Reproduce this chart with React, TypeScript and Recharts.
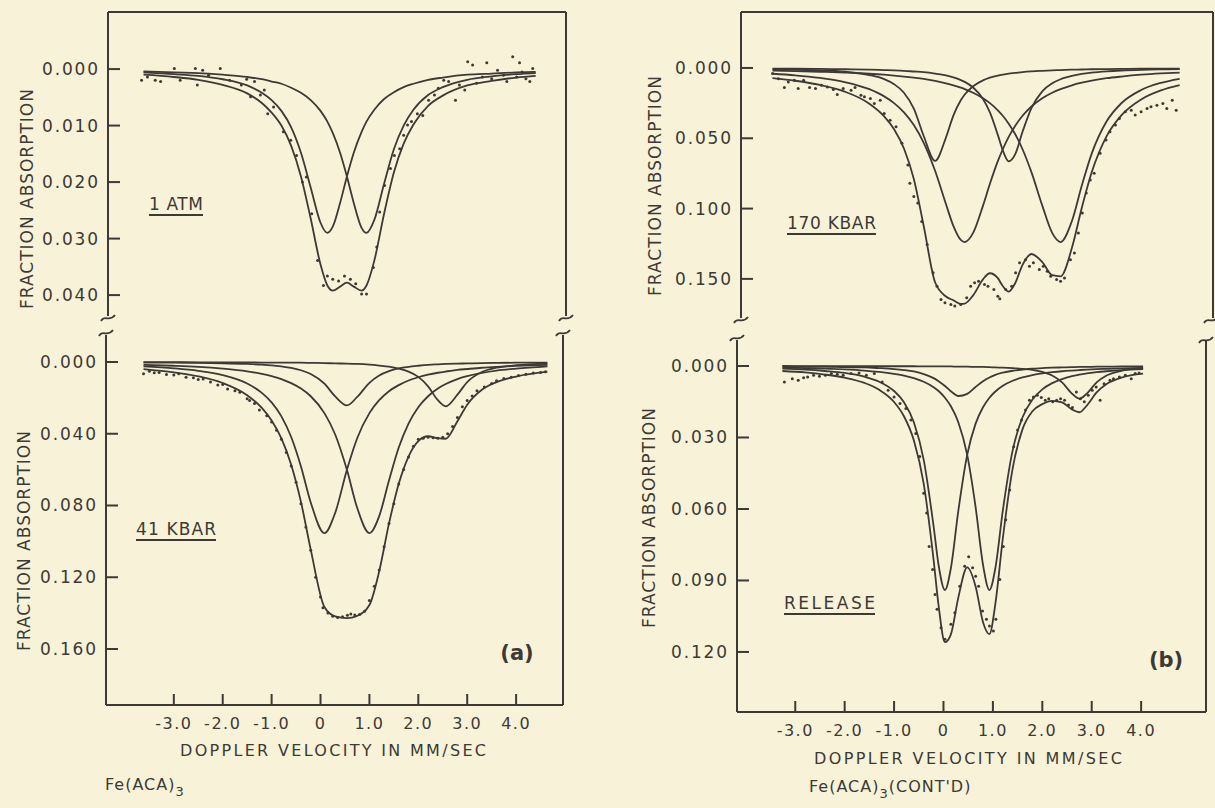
import React from 'react';
import { ComposedChart, Line, Scatter, XAxis, YAxis, ReferenceLine } from 'recharts';

const INK = '#3d3934';
const PAPER = '#f8f3d8';
const FONT = '"DejaVu Sans", "Noto Sans", sans-serif';

// ---------- shared x ticks ----------
const X_TICKS = [-3, -2, -1, 0, 1, 2, 3, 4];
const X_TICK_LABELS = ['-3.0', '-2.0', '-1.0', '0', '1.0', '2.0', '3.0', '4.0'];

// ---------- 1 ATM ----------
const ATM_Y_TICKS = [0, 0.01, 0.02, 0.03, 0.04];
const ATM_Y_LABELS = ['0.000', '0.010', '0.020', '0.030', '0.040'];
const ATM_V = [-3.62, -3, -2.5, -2, -1.5, -1.2, -1, -0.8, -0.6, -0.4, -0.2, 0, 0.14, 0.25, 0.4, 0.54, 0.68, 0.84, 0.94, 1.1, 1.3, 1.5, 1.7, 1.9, 2.2, 2.5, 3, 3.5, 4, 4.4];
const ATM_A = [0.0006, 0.0009, 0.0012, 0.0018, 0.0029, 0.0042, 0.0055, 0.0074, 0.0103, 0.0148, 0.0210, 0.0272, 0.0290, 0.0279, 0.0237, 0.0190, 0.0148, 0.0111, 0.0093, 0.0072, 0.0053, 0.0041, 0.0032, 0.0026, 0.0019, 0.0015, 0.0010, 0.0008, 0.0006, 0.0005];
const ATM_B = [0.0004, 0.0006, 0.0007, 0.0010, 0.0014, 0.0018, 0.0022, 0.0026, 0.0033, 0.0042, 0.0055, 0.0074, 0.0093, 0.0113, 0.0148, 0.0190, 0.0237, 0.0281, 0.0290, 0.0267, 0.0203, 0.0142, 0.0100, 0.0072, 0.0046, 0.0032, 0.0019, 0.0013, 0.0009, 0.0007];
const ATM_T = [0.0010, 0.0014, 0.0019, 0.0028, 0.0043, 0.0060, 0.0077, 0.0100, 0.0136, 0.0190, 0.0265, 0.0346, 0.0383, 0.0392, 0.0385, 0.0378, 0.0385, 0.0392, 0.0383, 0.0339, 0.0256, 0.0183, 0.0132, 0.0098, 0.0065, 0.0047, 0.0029, 0.0021, 0.0015, 0.0012];
const ATM_DOT_V = [-3.66, -3.54, -3.38, -3.27, -2.99, -2.87, -2.56, -2.52, -2.41, -2.29, -2.05, -1.86, -1.62, -1.51, -1.43, -1.35, -1.23, -1.15, -1.08, -0.96, -0.76, -0.61, -0.49, -0.37, -0.29, -0.18, -0.06, 0.06, 0.14, 0.25, 0.37, 0.49, 0.61, 0.72, 0.84, 0.94, 1.08, 1.15, 1.21, 1.31, 1.43, 1.51, 1.62, 1.70, 1.78, 1.86, 1.98, 2.09, 2.21, 2.33, 2.41, 2.52, 2.62, 2.76, 2.84, 2.95, 3.01, 3.11, 3.19, 3.31, 3.40, 3.50, 3.62, 3.74, 3.81, 3.93, 4.01, 4.07, 4.12, 4.20, 4.28, 4.34];
const ATM_DOT_A = [0.0020, 0.0014, 0.0020, 0.0022, -0.0001, 0.0020, -0.0001, 0.0028, 0.0002, 0.0011, -0.0001, 0.0020, 0.0028, 0.0018, 0.0049, 0.0022, 0.0046, 0.0037, 0.0079, 0.0067, 0.0111, 0.0126, 0.0153, 0.0200, 0.0191, 0.0256, 0.0339, 0.0383, 0.0366, 0.0372, 0.0375, 0.0366, 0.0372, 0.0380, 0.0398, 0.0398, 0.0351, 0.0315, 0.0253, 0.0206, 0.0176, 0.0153, 0.0141, 0.0117, 0.0099, 0.0093, 0.0079, 0.0082, 0.0055, 0.0046, 0.0034, 0.0020, 0.0022, 0.0055, 0.0028, 0.0037, -0.0013, -0.0007, 0.0025, 0.0014, -0.0011, 0.0017, 0.0002, 0.0011, 0.0022, -0.0022, 0.0014, -0.0011, 0.0005, 0.0017, 0.0022, -0.0001];

// ---------- 41 KBAR ----------
const KB_Y_TICKS = [0, 0.04, 0.08, 0.12, 0.16];
const KB_Y_LABELS = ['0.000', '0.040', '0.080', '0.120', '0.160'];
const KB_V = [-3.62, -3, -2.5, -2, -1.5, -1.2, -1, -0.8, -0.6, -0.4, -0.2, 0.08, 0.3, 0.54, 0.75, 1.0, 1.2, 1.4, 1.6, 1.8, 2.0, 2.2, 2.4, 2.56, 2.8, 3.0, 3.3, 3.6, 4.0, 4.64];
const KB_Q1 = [0.0024, 0.0035, 0.0049, 0.0073, 0.0120, 0.0172, 0.0225, 0.0303, 0.0418, 0.0582, 0.0783, 0.0954, 0.0841, 0.0601, 0.0425, 0.0285, 0.0213, 0.0163, 0.0129, 0.0103, 0.0085, 0.0071, 0.0060, 0.0053, 0.0044, 0.0039, 0.0032, 0.0027, 0.0022, 0.0016];
const KB_Q2 = [0.0016, 0.0021, 0.0027, 0.0037, 0.0052, 0.0066, 0.0079, 0.0095, 0.0118, 0.0148, 0.0191, 0.0285, 0.0404, 0.0601, 0.0813, 0.0954, 0.0859, 0.0661, 0.0477, 0.0343, 0.0252, 0.0191, 0.0148, 0.0123, 0.0095, 0.0079, 0.0061, 0.0048, 0.0037, 0.0024];
const KB_S1 = [0.0003, 0.0004, 0.0005, 0.0007, 0.0011, 0.0015, 0.0019, 0.0025, 0.0033, 0.0046, 0.0067, 0.0121, 0.0192, 0.0242, 0.0195, 0.0116, 0.0075, 0.0051, 0.0036, 0.0027, 0.0021, 0.0016, 0.0013, 0.0011, 0.0009, 0.0008, 0.0006, 0.0005, 0.0004, 0.0003];
const KB_S2 = [0.0001, 0.0001, 0.0002, 0.0002, 0.0002, 0.0003, 0.0003, 0.0003, 0.0004, 0.0004, 0.0005, 0.0006, 0.0008, 0.0009, 0.0011, 0.0015, 0.0020, 0.0026, 0.0037, 0.0054, 0.0083, 0.0136, 0.0213, 0.0247, 0.0182, 0.0112, 0.0056, 0.0032, 0.0018, 0.0009];
const KB_T = [0.0040, 0.0058, 0.0080, 0.0117, 0.0185, 0.0256, 0.0326, 0.0426, 0.0573, 0.0780, 0.1046, 0.1366, 0.1418, 0.1428, 0.1415, 0.1355, 0.1167, 0.0901, 0.0679, 0.0527, 0.0441, 0.0414, 0.0425, 0.0428, 0.0330, 0.0238, 0.0155, 0.0112, 0.0081, 0.0054];
const KB_DOT_V = [-3.62, -3.5, -3.4, -3.3, -3.15, -3.0, -2.9, -2.75, -2.6, -2.5, -2.4, -2.25, -2.1, -2.0, -1.9, -1.75, -1.65, -1.5, -1.45, -1.35, -1.25, -1.1, -1.0, -0.9, -0.8, -0.7, -0.6, -0.5, -0.4, -0.3, -0.2, -0.1, 0.0, 0.05, 0.15, 0.25, 0.35, 0.45, 0.55, 0.62, 0.7, 0.8, 0.9, 1.0, 1.1, 1.2, 1.3, 1.4, 1.5, 1.6, 1.7, 1.8, 1.9, 2.0, 2.1, 2.2, 2.3, 2.4, 2.5, 2.6, 2.7, 2.8, 2.9, 3.0, 3.1, 3.2, 3.35, 3.5, 3.6, 3.75, 3.9, 4.05, 4.2, 4.35, 4.5, 4.6];
const KB_DOT_A = [0.0065, 0.0052, 0.0060, 0.0058, 0.0070, 0.0072, 0.0065, 0.0085, 0.0088, 0.0098, 0.0095, 0.0112, 0.0128, 0.0125, 0.0150, 0.0160, 0.0168, 0.0205, 0.0215, 0.0232, 0.0268, 0.0300, 0.0335, 0.0380, 0.0430, 0.0505, 0.0580, 0.0670, 0.0790, 0.0920, 0.1050, 0.1200, 0.1310, 0.1370, 0.1400, 0.1418, 0.1425, 0.1420, 0.1412, 0.1405, 0.1410, 0.1408, 0.1390, 0.1330, 0.1250, 0.1160, 0.1030, 0.0900, 0.0790, 0.0680, 0.0600, 0.0530, 0.0470, 0.0430, 0.0425, 0.0420, 0.0422, 0.0425, 0.0420, 0.0400, 0.0360, 0.0310, 0.0250, 0.0215, 0.0190, 0.0160, 0.0140, 0.0120, 0.0105, 0.0092, 0.0085, 0.0075, 0.0068, 0.0062, 0.0058, 0.0055];

// ---------- 170 KBAR ----------
const HK_Y_TICKS = [0, 0.05, 0.1, 0.15];
const HK_Y_LABELS = ['0.000', '0.050', '0.100', '0.150'];
const HK_V = [-3.46, -3, -2.5, -2, -1.5, -1.2, -1, -0.8, -0.6, -0.4, -0.17, 0.05, 0.2, 0.35, 0.43, 0.6, 0.8, 0.94, 1.1, 1.2, 1.32, 1.45, 1.6, 1.78, 2.0, 2.2, 2.37, 2.6, 2.8, 3.0, 3.3, 3.6, 4.0, 4.4, 4.78];
const HK_W1 = [0.0041, 0.0052, 0.0071, 0.0100, 0.0151, 0.0202, 0.0250, 0.0316, 0.0406, 0.0532, 0.0731, 0.0968, 0.1123, 0.1223, 0.1238, 0.1173, 0.0979, 0.0824, 0.0663, 0.0578, 0.0490, 0.0412, 0.0340, 0.0274, 0.0215, 0.0176, 0.0150, 0.0123, 0.0105, 0.0090, 0.0073, 0.0061, 0.0048, 0.0039, 0.0033];
const HK_W2 = [0.0019, 0.0022, 0.0027, 0.0033, 0.0041, 0.0048, 0.0054, 0.0061, 0.0069, 0.0078, 0.0092, 0.0109, 0.0123, 0.0140, 0.0150, 0.0176, 0.0215, 0.0250, 0.0301, 0.0340, 0.0396, 0.0470, 0.0578, 0.0741, 0.0979, 0.1173, 0.1238, 0.1088, 0.0836, 0.0609, 0.0381, 0.0251, 0.0157, 0.0106, 0.0077];
const HK_N1 = [0.0009, 0.0012, 0.0017, 0.0027, 0.0050, 0.0079, 0.0115, 0.0176, 0.0290, 0.0484, 0.0661, 0.0495, 0.0339, 0.0230, 0.0189, 0.0130, 0.0088, 0.0069, 0.0054, 0.0047, 0.0040, 0.0035, 0.0029, 0.0024, 0.0020, 0.0017, 0.0015, 0.0012, 0.0011, 0.0009, 0.0008, 0.0007, 0.0005, 0.0005, 0.0004];
const HK_N2 = [0.0004, 0.0005, 0.0007, 0.0009, 0.0012, 0.0015, 0.0017, 0.0020, 0.0025, 0.0030, 0.0040, 0.0053, 0.0067, 0.0086, 0.0099, 0.0139, 0.0221, 0.0316, 0.0476, 0.0586, 0.0664, 0.0615, 0.0454, 0.0285, 0.0166, 0.0109, 0.0080, 0.0056, 0.0042, 0.0033, 0.0024, 0.0018, 0.0013, 0.0010, 0.0008];
const HK_T = [0.0072, 0.0091, 0.0121, 0.0168, 0.0254, 0.0344, 0.0436, 0.0573, 0.0790, 0.1124, 0.1524, 0.1625, 0.1652, 0.1678, 0.1676, 0.1617, 0.1503, 0.1460, 0.1495, 0.1551, 0.1590, 0.1531, 0.1400, 0.1323, 0.1380, 0.1474, 0.1482, 0.1279, 0.0994, 0.0742, 0.0486, 0.0337, 0.0224, 0.0160, 0.0122];
const HK_DOT_V = [-3.46, -3.34, -3.22, -3.14, -3.02, -2.94, -2.83, -2.71, -2.59, -2.47, -2.35, -2.23, -2.15, -2.03, -1.87, -1.79, -1.67, -1.6, -1.48, -1.4, -1.28, -1.2, -1.08, -0.96, -0.84, -0.72, -0.68, -0.6, -0.52, -0.44, -0.33, -0.21, -0.13, -0.05, 0.03, 0.15, 0.23, 0.35, 0.47, 0.55, 0.63, 0.71, 0.83, 0.9, 1.02, 1.1, 1.14, 1.26, 1.38, 1.46, 1.54, 1.66, 1.74, 1.82, 1.94, 2.02, 2.1, 2.17, 2.29, 2.37, 2.45, 2.57, 2.65, 2.73, 2.81, 2.89, 2.97, 3.05, 3.17, 3.29, 3.37, 3.48, 3.56, 3.68, 3.8, 3.88, 4.0, 4.12, 4.2, 4.32, 4.44, 4.52, 4.63, 4.71];
const HK_DOT_A = [0.0040, 0.0076, 0.0139, 0.0099, 0.0087, 0.0146, 0.0087, 0.0139, 0.0146, 0.0123, 0.0135, 0.0154, 0.0189, 0.0146, 0.0158, 0.0139, 0.0194, 0.0205, 0.0217, 0.0253, 0.0229, 0.0324, 0.0371, 0.0418, 0.0536, 0.0690, 0.0820, 0.0914, 0.0961, 0.1091, 0.1256, 0.1457, 0.1552, 0.1646, 0.1670, 0.1682, 0.1693, 0.1682, 0.1634, 0.1552, 0.1528, 0.1516, 0.1540, 0.1552, 0.1575, 0.1623, 0.1641, 0.1575, 0.1552, 0.1457, 0.1386, 0.1363, 0.1410, 0.1386, 0.1434, 0.1410, 0.1445, 0.1481, 0.1504, 0.1516, 0.1493, 0.1363, 0.1316, 0.1174, 0.1032, 0.0890, 0.0796, 0.0749, 0.0607, 0.0513, 0.0453, 0.0406, 0.0359, 0.0312, 0.0300, 0.0335, 0.0312, 0.0288, 0.0276, 0.0265, 0.0253, 0.0288, 0.0229, 0.0300];

// ---------- RELEASE ----------
const RL_Y_TICKS = [0, 0.03, 0.06, 0.09, 0.12];
const RL_Y_LABELS = ['0.000', '0.030', '0.060', '0.090', '0.120'];
const RL_V = [-3.26, -2.8, -2.4, -2, -1.6, -1.3, -1.0, -0.8, -0.6, -0.4, -0.2, -0.1, 0.03, 0.15, 0.3, 0.48, 0.65, 0.8, 0.93, 1.05, 1.2, 1.4, 1.6, 1.8, 2.0, 2.2, 2.4, 2.6, 2.75, 2.9, 3.1, 3.3, 3.6, 4.04];
const RL_Q1 = [0.0011, 0.0015, 0.0021, 0.0029, 0.0045, 0.0066, 0.0105, 0.0152, 0.0236, 0.0394, 0.0673, 0.0834, 0.0940, 0.0848, 0.0608, 0.0373, 0.0242, 0.0173, 0.0133, 0.0107, 0.0083, 0.0062, 0.0048, 0.0038, 0.0031, 0.0026, 0.0022, 0.0019, 0.0017, 0.0015, 0.0013, 0.0012, 0.0010, 0.0008];
const RL_Q2 = [0.0007, 0.0009, 0.0011, 0.0014, 0.0019, 0.0025, 0.0033, 0.0040, 0.0051, 0.0066, 0.0089, 0.0105, 0.0133, 0.0169, 0.0236, 0.0373, 0.0592, 0.0834, 0.0940, 0.0848, 0.0608, 0.0354, 0.0215, 0.0141, 0.0098, 0.0072, 0.0055, 0.0043, 0.0036, 0.0031, 0.0026, 0.0022, 0.0017, 0.0013];
const RL_S1 = [0.0002, 0.0003, 0.0003, 0.0005, 0.0006, 0.0009, 0.0013, 0.0017, 0.0023, 0.0034, 0.0051, 0.0064, 0.0084, 0.0106, 0.0126, 0.0117, 0.0088, 0.0064, 0.0048, 0.0037, 0.0028, 0.0020, 0.0015, 0.0011, 0.0009, 0.0007, 0.0006, 0.0005, 0.0004, 0.0004, 0.0003, 0.0003, 0.0002, 0.0002];
const RL_S2 = [0.0000, 0.0001, 0.0001, 0.0001, 0.0001, 0.0001, 0.0001, 0.0001, 0.0001, 0.0002, 0.0002, 0.0002, 0.0002, 0.0002, 0.0003, 0.0003, 0.0004, 0.0004, 0.0005, 0.0006, 0.0007, 0.0009, 0.0012, 0.0016, 0.0025, 0.0040, 0.0069, 0.0116, 0.0137, 0.0116, 0.0069, 0.0040, 0.0020, 0.0009];
const RL_T = [0.0021, 0.0027, 0.0036, 0.0049, 0.0071, 0.0100, 0.0151, 0.0211, 0.0312, 0.0495, 0.0814, 0.1004, 0.1159, 0.1126, 0.0972, 0.0845, 0.0925, 0.1075, 0.1125, 0.0998, 0.0725, 0.0430, 0.0265, 0.0190, 0.0160, 0.0146, 0.0153, 0.0182, 0.0194, 0.0166, 0.0111, 0.0076, 0.0049, 0.0032];
const RL_DOT_V = [-3.22, -3.06, -2.94, -2.83, -2.75, -2.63, -2.51, -2.39, -2.27, -2.15, -2.03, -1.87, -1.71, -1.56, -1.4, -1.24, -1.12, -1.0, -0.88, -0.76, -0.66, -0.56, -0.48, -0.4, -0.34, -0.29, -0.22, -0.17, -0.13, -0.05, 0.03, 0.15, 0.23, 0.33, 0.43, 0.51, 0.59, 0.65, 0.71, 0.79, 0.87, 0.93, 1.01, 1.06, 1.14, 1.21, 1.26, 1.34, 1.42, 1.5, 1.58, 1.66, 1.74, 1.82, 1.9, 1.98, 2.06, 2.13, 2.21, 2.29, 2.37, 2.45, 2.53, 2.61, 2.69, 2.77, 2.85, 2.93, 3.01, 3.09, 3.17, 3.25, 3.37, 3.44, 3.56, 3.68, 3.8, 3.88, 3.96];
const RL_DOT_A = [0.0067, 0.0053, 0.0060, 0.0049, 0.0046, 0.0039, 0.0043, 0.0039, 0.0032, 0.0035, 0.0039, 0.0032, 0.0029, 0.0039, 0.0032, 0.0067, 0.0102, 0.0130, 0.0157, 0.0178, 0.0227, 0.0283, 0.0380, 0.0534, 0.0617, 0.0757, 0.0854, 0.0959, 0.1021, 0.1098, 0.1147, 0.1084, 0.1035, 0.0924, 0.0840, 0.0801, 0.0847, 0.0882, 0.0924, 0.1028, 0.1063, 0.1091, 0.1112, 0.1063, 0.0896, 0.0757, 0.0645, 0.0520, 0.0339, 0.0269, 0.0227, 0.0185, 0.0144, 0.0130, 0.0123, 0.0132, 0.0144, 0.0137, 0.0150, 0.0144, 0.0137, 0.0144, 0.0164, 0.0174, 0.0109, 0.0137, 0.0150, 0.0123, 0.0102, 0.0088, 0.0144, 0.0074, 0.0060, 0.0053, 0.0046, 0.0039, 0.0053, 0.0032, 0.0029];

type Pt = { v: number; a: number };
const pts = (xs: number[], ys: number[]): Pt[] => xs.map((v, i) => ({ v, a: ys[i] }));

const DotShape = (p: any) => <circle cx={p.cx} cy={p.cy} r={1.5} fill={INK} />;

const makeYTick = (ticks: number[], labels: string[]) => (p: any) => {
  const idx = ticks.findIndex((t) => Math.abs(t - p.payload.value) < 1e-9);
  return (
    <g>
      <line x1={p.x} x2={p.x + 12} y1={p.y} y2={p.y} stroke={INK} strokeWidth={2} />
      <text x={p.x - 10} y={p.y} textAnchor="end" dominantBaseline="central" fontSize={17} fill={INK} fontFamily={FONT} textLength={56} lengthAdjust="spacing">
        {labels[idx]}
      </text>
    </g>
  );
};

const XTick = (p: any) => {
  const idx = X_TICKS.findIndex((t) => Math.abs(t - p.payload.value) < 1e-9);
  return (
    <g>
      <line x1={p.x} x2={p.x} y1={p.y} y2={p.y - 11} stroke={INK} strokeWidth={2} />
      <text x={p.x} y={p.y + 18} textAnchor="middle" dominantBaseline="central" fontSize={16} fill={INK} fontFamily={FONT} letterSpacing={1.5}>
        {X_TICK_LABELS[idx]}
      </text>
    </g>
  );
};

type PanelProps = {
  plotLeft: number; plotTop: number; plotW: number; plotH: number;
  xDomain: [number, number]; yDomain: [number, number];
  yTicks: number[]; yLabels: string[];
  showX: boolean; frameTop: boolean;
  curves: Pt[][]; dots: Pt[];
};

function Panel(pp: PanelProps) {
  const ML = 110, MR = 1, MT = 4;
  const MB = pp.showX ? 45 : 0;
  const width = ML + pp.plotW + MR;
  const height = MT + pp.plotH + MB;
  return (
    <div style={{ position: 'absolute', left: pp.plotLeft - ML, top: pp.plotTop - MT }}>
      <ComposedChart width={width} height={height} margin={{ top: MT, right: MR, bottom: 0, left: 0 }}>
        <XAxis type="number" dataKey="v" domain={pp.xDomain} allowDataOverflow ticks={X_TICKS} interval={0}
          hide={!pp.showX} height={MB} tickLine={false} tickSize={0} tickMargin={0}
          axisLine={{ stroke: INK, strokeWidth: 2 }} tick={XTick} />
        <YAxis type="number" domain={pp.yDomain} reversed allowDataOverflow ticks={pp.yTicks} interval={0}
          width={ML} tickLine={false} tickSize={0} tickMargin={0}
          axisLine={{ stroke: INK, strokeWidth: 2 }} tick={makeYTick(pp.yTicks, pp.yLabels)} />
        <ReferenceLine x={pp.xDomain[1]} stroke={INK} strokeWidth={2} ifOverflow="visible" />
        {pp.frameTop && <ReferenceLine y={pp.yDomain[0]} stroke={INK} strokeWidth={2} ifOverflow="visible" />}
        {pp.curves.map((c, i) => (
          <Line key={i} data={c} dataKey="a" type="monotone" stroke={INK} strokeWidth={1.8} dot={false} activeDot={false} isAnimationActive={false} />
        ))}
        <Scatter data={pp.dots} dataKey="a" fill={INK} shape={DotShape} isAnimationActive={false} />
      </ComposedChart>
    </div>
  );
}

const Brk = ({ x, y }: { x: number; y: number }) => (
  <path d={`M ${x - 7} ${y + 3} C ${x - 3} ${y - 4}, ${x + 1} ${y + 5}, ${x + 7} ${y - 3}`} fill="none" stroke={INK} strokeWidth={1.8} />
);

const Tag = ({ x, y, w, text }: { x: number; y: number; w: number; text: string }) => (
  <g>
    <text x={x} y={y} dominantBaseline="central" fontSize={17} fill={INK} fontFamily={FONT} textLength={w} lengthAdjust="spacing">{text}</text>
    <line x1={x} x2={x + w} y1={y + 11} y2={y + 11} stroke={INK} strokeWidth={1.8} />
  </g>
);

const YTitle = ({ x, y }: { x: number; y: number }) => (
  <text transform={`translate(${x},${y}) rotate(-90)`} textAnchor="middle" dominantBaseline="central" fontSize={17} fill={INK} fontFamily={FONT} textLength={220} lengthAdjust="spacing">
    FRACTION ABSORPTION
  </text>
);

const XTitle = ({ x, y, w }: { x: number; y: number; w: number }) => (
  <text x={x} y={y} textAnchor="middle" dominantBaseline="central" fontSize={16} fill={INK} fontFamily={FONT} textLength={w} lengthAdjust="spacing">
    DOPPLER VELOCITY IN MM/SEC
  </text>
);

export default function App() {
  return (
    <div style={{ position: 'absolute', left: 0, top: 0, width: 1215, height: 808, background: PAPER, overflow: 'hidden', fontFamily: FONT }}>
      <Panel plotLeft={108} plotTop={12} plotW={458} plotH={304} xDomain={[-4.346, 5.02]} yDomain={[-0.0101, 0.0437]}
        yTicks={ATM_Y_TICKS} yLabels={ATM_Y_LABELS} showX={false} frameTop={true}
        curves={[pts(ATM_V, ATM_A), pts(ATM_V, ATM_B), pts(ATM_V, ATM_T)]} dots={pts(ATM_DOT_V, ATM_DOT_A)} />
      <Panel plotLeft={106} plotTop={335} plotW={457} plotH={370} xDomain={[-4.387, 4.959]} yDomain={[-0.01505, 0.19122]}
        yTicks={KB_Y_TICKS} yLabels={KB_Y_LABELS} showX={true} frameTop={false}
        curves={[pts(KB_V, KB_Q1), pts(KB_V, KB_Q2), pts(KB_V, KB_S1), pts(KB_V, KB_S2), pts(KB_V, KB_T)]} dots={pts(KB_DOT_V, KB_DOT_A)} />
      <Panel plotLeft={741} plotTop={12} plotW={472} plotH={306} xDomain={[-4.098, 5.455]} yDomain={[-0.0398, 0.17781]}
        yTicks={HK_Y_TICKS} yLabels={HK_Y_LABELS} showX={false} frameTop={true}
        curves={[pts(HK_V, HK_W1), pts(HK_V, HK_W2), pts(HK_V, HK_N1), pts(HK_V, HK_N2), pts(HK_V, HK_T)]} dots={pts(HK_DOT_V, HK_DOT_A)} />
      <Panel plotLeft={737} plotTop={340} plotW={469} plotH={372} xDomain={[-4.179, 5.313]} yDomain={[-0.01091, 0.1452]}
        yTicks={RL_Y_TICKS} yLabels={RL_Y_LABELS} showX={true} frameTop={false}
        curves={[pts(RL_V, RL_Q1), pts(RL_V, RL_Q2), pts(RL_V, RL_S1), pts(RL_V, RL_S2), pts(RL_V, RL_T)]} dots={pts(RL_DOT_V, RL_DOT_A)} />

      <svg width={1215} height={808} style={{ position: 'absolute', left: 0, top: 0, pointerEvents: 'none' }}>
        <YTitle x={27} y={199} />
        <YTitle x={24} y={541} />
        <YTitle x={655} y={186} />
        <YTitle x={649} y={518} />

        <Tag x={149} y={204} w={54} text="1 ATM" />
        <Tag x={136} y={529} w={80} text="41 KBAR" />
        <Tag x={787} y={223} w={89} text="170 KBAR" />
        <Tag x={784} y={603} w={91} text="RELEASE" />

        <text x={517} y={653} textAnchor="middle" dominantBaseline="central" fontSize={21} fontWeight="bold" fill={INK} fontFamily={FONT}>(a)</text>
        <text x={1166} y={660} textAnchor="middle" dominantBaseline="central" fontSize={21} fontWeight="bold" fill={INK} fontFamily={FONT}>(b)</text>

        <XTitle x={333} y={750} w={306} />
        <XTitle x={968} y={758} w={308} />

        <text x={105} y={790} fontSize={16} fill={INK} fontFamily={FONT} letterSpacing={1}>
          Fe(ACA)<tspan dy={6} fontSize={13}>3</tspan>
        </text>
        <text x={809} y={792} fontSize={16} fill={INK} fontFamily={FONT} letterSpacing={1}>
          Fe(ACA)<tspan dy={6} fontSize={13}>3</tspan><tspan dy={-6}>(CONT'D)</tspan>
        </text>

        <Brk x={108} y={318} />
        <Brk x={566} y={318} />
        <Brk x={106} y={333} />
        <Brk x={563} y={333} />
        <Brk x={741} y={320} />
        <Brk x={1211} y={320} />
        <Brk x={737} y={338} />
        <Brk x={1206} y={340} />
      </svg>
    </div>
  );
}
